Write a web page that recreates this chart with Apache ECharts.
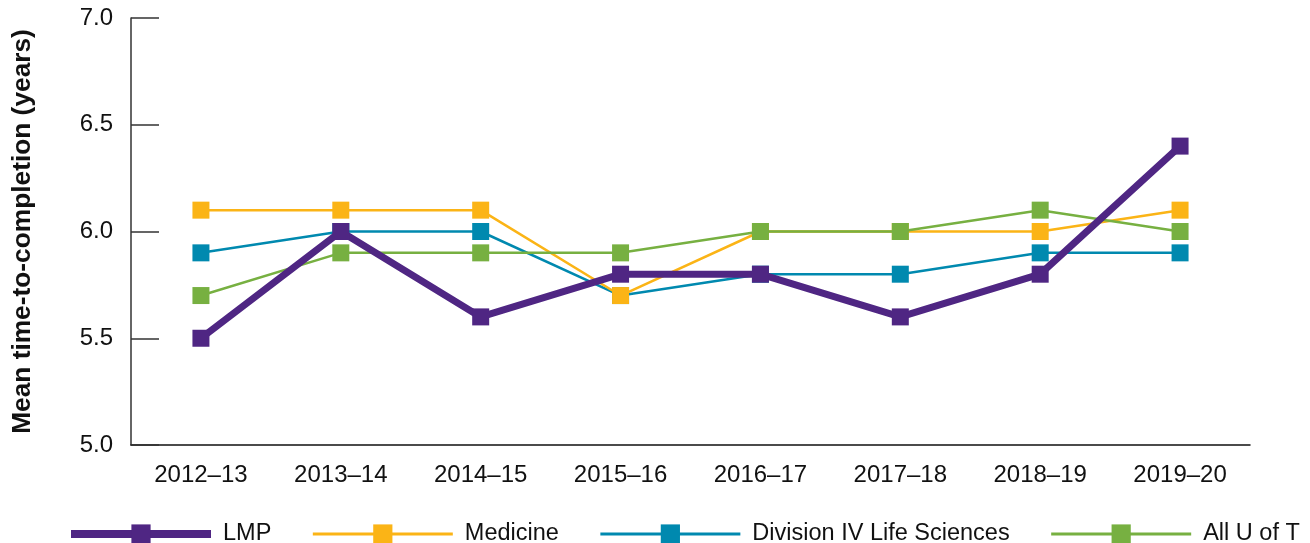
<!DOCTYPE html>
<html>
<head>
<meta charset="utf-8">
<script src="https://cdn.jsdelivr.net/npm/echarts@6/dist/echarts.min.js"></script>
<style>
html, body { margin: 0; padding: 0; background: #fff; }
#ech { width: 1310px; height: 543px; }
</style>
</head>
<body>
<div id="ech"></div>
<script>
var years = ['2012–13', '2013–14', '2014–15', '2015–16', '2016–17', '2017–18', '2018–19', '2019–20'];
var lmp = [5.5, 6.0, 5.6, 5.8, 5.8, 5.6, 5.8, 6.4];
var medicine = [6.1, 6.1, 6.1, 5.7, 6.0, 6.0, 6.0, 6.1];
var divisionIV = [5.9, 6.0, 6.0, 5.7, 5.8, 5.8, 5.9, 5.9];
var allUofT = [5.7, 5.9, 5.9, 5.9, 6.0, 6.0, 6.1, 6.0];
var seriesNames = ['LMP', 'Medicine', 'Division IV Life Sciences', 'All U of T'];
var colors = ['#4f2683', '#fbb416', '#0089af', '#77b041'];
var widths = [7, 2.5, 2.5, 2.5];
var legendTextWidths = [46, 94, 259, 80];

function makeLine(i, data, z) {
	return {
		name: seriesNames[i],
		type: 'line',
		data: data,
		symbol: 'rect',
		symbolSize: 17,
		z: z,
		lineStyle: { color: colors[i], width: widths[i] },
		itemStyle: { color: colors[i] },
		emphasis: { disabled: true }
	};
}

// legend entries carry their own line width so LMP shows thick
var legendData = seriesNames.map(function (n, i) {
	return {
		name: n,
		lineStyle: { width: i === 0 ? 8 : 3 },
		textStyle: { width: legendTextWidths[i] }
	};
});

var myChart = echarts.init(document.getElementById('ech'));
var font = 'Liberation Sans, Arial, sans-serif';
var option = {
	animation: false,
	grid: { left: 131, right: 60, top: 18, bottom: 98, outerBoundsMode: 'none' },
	legend: {
		left: 67,
		top: 522,
		padding: 0,
		itemWidth: 140,
		itemHeight: 24,
		itemGap: 40,
		textStyle: { fontFamily: font, fontSize: 23.5, color: '#111', padding: [0, 0, 0, 7] },
		data: legendData
	},
	xAxis: {
		type: 'category',
		data: years,
		boundaryGap: true,
		axisLine: { lineStyle: { color: '#111', width: 1.5 } },
		axisTick: { inside: true, length: 10, lineStyle: { color: '#111', width: 1.5 } },
		axisLabel: { margin: 18, fontFamily: font, fontSize: 24, color: '#111' }
	},
	yAxis: {
		type: 'value',
		min: 5,
		max: 7,
		interval: 0.5,
		name: 'Mean time-to-completion (years)',
		nameLocation: 'middle',
		nameGap: 95,
		nameTextStyle: { fontFamily: font, fontWeight: 'bold', fontSize: 26.3, color: '#111' },
		axisLine: { show: true, lineStyle: { color: '#333', width: 1.5 } },
		axisTick: { show: true, inside: true, length: 28, lineStyle: { color: '#333', width: 1.5 } },
		splitLine: { show: false },
		axisLabel: {
			margin: 18, fontFamily: font, fontSize: 24, color: '#111',
			formatter: function (v) { return v.toFixed(1); }
		}
	},
	series: [
		makeLine(0, lmp, 10),
		makeLine(1, medicine, 4),
		makeLine(2, divisionIV, 3),
		makeLine(3, allUofT, 5)
	]
};
myChart.setOption(option);
</script>
</body>
</html>
